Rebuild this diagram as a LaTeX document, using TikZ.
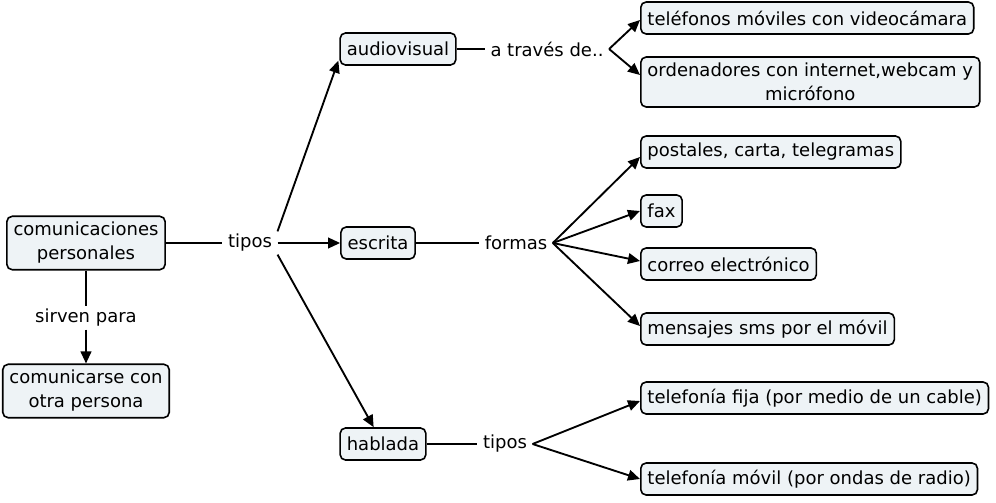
\documentclass[tikz,border=0pt]{standalone}
\usepackage{fontspec}
\setmainfont{DejaVu Sans}
\usetikzlibrary{arrows.meta,calc}
\definecolor{boxfill}{RGB}{238,243,246}
\begin{document}
\begin{tikzpicture}[x=0.75pt,y=-0.75pt,
  concept/.style={draw=black, line width=1.2pt, rounded corners=4pt, fill=boxfill,
    font=\fontsize{13.5}{18}\selectfont, align=center, inner xsep=5pt, inner ysep=4.5pt, minimum height=24pt},
  linklabel/.style={font=\fontsize{13.5}{18}\selectfont, inner xsep=4pt, inner ysep=2pt, fill=white},
  conn/.style={line width=1.4pt},
  arr/.style={line width=1.4pt, -{Triangle[length=9pt,width=8pt]}}]
\useasboundingbox (0,0) rectangle (996,503);
% concepts
\node[concept] (cp) at (86,243) {comunicaciones\\personales};
\node[concept] (co) at (86,391) {comunicarse con\\otra persona};
\node[concept] (av) at (398,49) {audiovisual};
\node[concept] (es) at (378,243) {escrita};
\node[concept] (ha) at (383,444) {hablada};
\node[concept,anchor=west] (tm) at (640,18) {teléfonos móviles con videocámara};
\node[concept,anchor=west] (or) at (640,82) {ordenadores con internet,webcam y\\micrófono};
\node[concept,anchor=west] (po) at (640,152) {postales, carta, telegramas};
\node[concept,anchor=west] (fa) at (640,211) {fax};
\node[concept,anchor=west] (ce) at (640,264) {correo electrónico};
\node[concept,anchor=west] (ms) at (640,329) {mensajes sms por el móvil};
\node[concept,anchor=west] (tf) at (640,398) {telefonía fija (por medio de un cable)};
\node[concept,anchor=west] (tv) at (640,479) {telefonía móvil (por ondas de radio)};
% link labels
\node[linklabel] (l1) at (250,243) {tipos};
\node[linklabel] (l2) at (86,318) {sirven para};
\node[linklabel] (l3) at (547,49) {a través de..};
\node[linklabel] (l4) at (516,243) {formas};
\node[linklabel] (l5) at (505,444) {tipos};
% connectors
\draw[conn] (cp) -- (l1);
\draw[arr] (l1.north east) -- ($(av.south west)+(-1,-5)$);
\draw[arr] (l1) -- (es);
\draw[arr] (l1.south east) -- (ha);
\draw[conn] (cp) -- (l2);
\draw[arr] (l2) -- (co);
\draw[conn] (av) -- (l3);
\draw[arr] (l3.east) -- ($(tm.west)+(0,2)$);
\draw[arr] (l3.east) -- ($(or.west)+(0,-7)$);
\draw[conn] (es) -- (l4);
\draw[arr] (l4.east) -- ($(po.west)+(0,5)$);
\draw[arr] (l4.east) -- (fa.west);
\draw[arr] (l4.east) -- ($(ce.west)+(0,-3)$);
\draw[arr] (l4.east) -- ($(ms.west)+(0,-3)$);
\draw[conn] (ha) -- (l5);
\draw[arr] (l5.east) -- ($(tf.west)+(0,3)$);
\draw[arr] (l5.east) -- (tv.west);
\end{tikzpicture}
\end{document}
